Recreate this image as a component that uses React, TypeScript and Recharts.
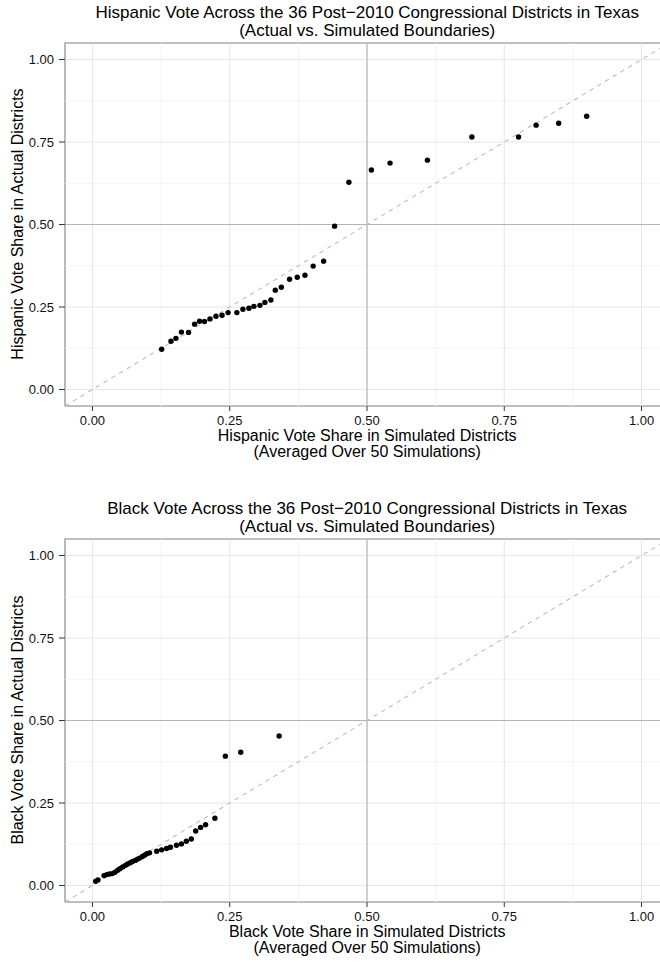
import React from "react";
import {
  ScatterChart,
  Scatter,
  XAxis,
  YAxis,
  ReferenceLine,
  ReferenceArea,
} from "recharts";

// Hispanic vote share: simulated (x) vs actual (y), one entry per district
const hispanicSimulated = [
  0.126, 0.143, 0.152, 0.162, 0.175, 0.186, 0.195, 0.204, 0.214, 0.225, 0.236, 0.247,
  0.263, 0.274, 0.285, 0.294, 0.305, 0.314, 0.325, 0.333, 0.344, 0.359, 0.373, 0.387,
  0.402, 0.421, 0.441, 0.467, 0.508, 0.542, 0.61, 0.691, 0.776, 0.808, 0.849, 0.9,
];
const hispanicActual = [
  0.122, 0.146, 0.155, 0.174, 0.173, 0.198, 0.207, 0.206, 0.214, 0.222, 0.225, 0.233,
  0.233, 0.243, 0.246, 0.252, 0.255, 0.264, 0.271, 0.301, 0.31, 0.334, 0.34, 0.346,
  0.374, 0.389, 0.495, 0.628, 0.665, 0.686, 0.695, 0.765, 0.765, 0.801, 0.807, 0.828,
];

// Black vote share: simulated (x) vs actual (y), one entry per district
const blackSimulated = [
  0.006, 0.01, 0.021, 0.026, 0.031, 0.036, 0.041, 0.046, 0.05, 0.055, 0.06, 0.064,
  0.069, 0.073, 0.078, 0.082, 0.086, 0.091, 0.095, 0.099, 0.104, 0.117, 0.126, 0.135,
  0.142, 0.153, 0.162, 0.171, 0.18, 0.188, 0.197, 0.206, 0.223, 0.242, 0.27, 0.34,
];
const blackActual = [
  0.013, 0.017, 0.03, 0.033, 0.035, 0.036, 0.04, 0.046, 0.051, 0.056, 0.061, 0.065,
  0.069, 0.073, 0.076, 0.08, 0.083, 0.088, 0.092, 0.096, 0.099, 0.104, 0.108, 0.112,
  0.116, 0.122, 0.126, 0.134, 0.141, 0.165, 0.176, 0.184, 0.204, 0.392, 0.404, 0.453,
];

const majorTicks = [0, 0.25, 0.5, 0.75, 1];
const minorTicks = [0.125, 0.375, 0.625, 0.875];

const FONT = "'Liberation Sans', Arial, Helvetica, sans-serif";
const CHART_W = 670;
const CHART_H = 496;
const DOMAIN: [number, number] = [-0.05, 1.05];

type PanelProps = {
  xs: number[];
  ys: number[];
  title: string;
  xTitle: string;
  yTitle: string;
  top: number;
};

const Dot = (props: any) => (
  <circle cx={props.cx} cy={props.cy} r={2.7} fill="#000" />
);

function Panel({ xs, ys, title, xTitle, yTitle, top }: PanelProps) {
  const data = xs.map((x, i) => ({ x, y: ys[i] }));
  const center = 367.2;
  return (
    <div style={{ position: "absolute", left: 0, top, width: CHART_W, height: CHART_H }}>
      <ScatterChart
        width={CHART_W}
        height={CHART_H}
        margin={{ top: 43, right: 1, bottom: 0, left: 0 }}
        style={{ fontFamily: FONT }}
      >
        <XAxis
          type="number"
          dataKey="x"
          domain={DOMAIN}
          ticks={majorTicks}
          allowDataOverflow
          height={90}
          axisLine={false}
          tickLine={{ stroke: "#333", strokeWidth: 1 }}
          tickSize={5}
          tickMargin={5}
          tick={{ fill: "#111", fontSize: 13, fontFamily: FONT }}
          tickFormatter={(v: number) => v.toFixed(2)}
        />
        <YAxis
          type="number"
          dataKey="y"
          domain={DOMAIN}
          ticks={majorTicks}
          allowDataOverflow
          width={65}
          axisLine={false}
          tickLine={{ stroke: "#333", strokeWidth: 1 }}
          tickSize={6}
          tickMargin={5}
          tick={{ fill: "#111", fontSize: 13, fontFamily: FONT }}
          tickFormatter={(v: number) => v.toFixed(2)}
        />
        {minorTicks.map((v) => (
          <ReferenceLine key={"mx" + v} x={v} stroke="#f4f4f4" strokeWidth={1} />
        ))}
        {minorTicks.map((v) => (
          <ReferenceLine key={"my" + v} y={v} stroke="#f4f4f4" strokeWidth={1} />
        ))}
        {majorTicks.map((v) => (
          <ReferenceLine key={"Mx" + v} x={v} stroke="#e6e6e6" strokeWidth={1} />
        ))}
        {majorTicks.map((v) => (
          <ReferenceLine key={"My" + v} y={v} stroke="#e6e6e6" strokeWidth={1} />
        ))}
        <ReferenceLine x={0.5} stroke="#b3b3b3" strokeWidth={1.1} />
        <ReferenceLine y={0.5} stroke="#b3b3b3" strokeWidth={1.1} />
        <ReferenceLine
          segment={[
            { x: DOMAIN[0], y: DOMAIN[0] },
            { x: DOMAIN[1], y: DOMAIN[1] },
          ]}
          stroke="#bdbdbd"
          strokeWidth={1.1}
          strokeDasharray="4.5 4.5"
          ifOverflow="visible"
        />
        <ReferenceArea
          x1={DOMAIN[0]}
          x2={DOMAIN[1]}
          y1={DOMAIN[0]}
          y2={DOMAIN[1]}
          fill="none"
          fillOpacity={0}
          stroke="#7f7f7f"
          strokeWidth={1.1}
          ifOverflow="visible"
        />
        <Scatter data={data} shape={Dot} isAnimationActive={false} />
      </ScatterChart>
      <div
        style={{
          position: "absolute",
          left: center - 340,
          width: 680,
          top: 3.5,
          textAlign: "center",
          fontFamily: FONT,
          fontSize: 17,
          lineHeight: "18px",
          color: "#000",
          whiteSpace: "nowrap",
        }}
      >
        <div>{title}</div>
        <div>(Actual vs. Simulated Boundaries)</div>
      </div>
      <div
        style={{
          position: "absolute",
          left: center - 300,
          width: 600,
          top: 427.5,
          textAlign: "center",
          fontFamily: FONT,
          fontSize: 16,
          lineHeight: "16.5px",
          color: "#000",
          whiteSpace: "nowrap",
        }}
      >
        <div>{xTitle}</div>
        <div>(Averaged Over 50 Simulations)</div>
      </div>
      <div
        style={{
          position: "absolute",
          left: 18 - 200,
          top: 224.3 - 9,
          width: 400,
          height: 18,
          lineHeight: "18px",
          textAlign: "center",
          fontFamily: FONT,
          fontSize: 16,
          color: "#000",
          whiteSpace: "nowrap",
          transform: "rotate(-90deg)",
        }}
      >
        {yTitle}
      </div>
    </div>
  );
}

export default function App() {
  return (
    <div
      style={{
        position: "absolute",
        left: 0,
        top: 0,
        width: 660,
        height: 963,
        overflow: "hidden",
        background: "#fff",
      }}
    >
      <Panel
        xs={hispanicSimulated}
        ys={hispanicActual}
        title="Hispanic Vote Across the 36 Post−2010 Congressional Districts in Texas"
        xTitle="Hispanic Vote Share in Simulated Districts"
        yTitle="Hispanic Vote Share in Actual Districts"
        top={0}
      />
      <Panel
        xs={blackSimulated}
        ys={blackActual}
        title="Black Vote Across the 36 Post−2010 Congressional Districts in Texas"
        xTitle="Black Vote Share in Simulated Districts"
        yTitle="Black Vote Share in Actual Districts"
        top={496}
      />
    </div>
  );
}
